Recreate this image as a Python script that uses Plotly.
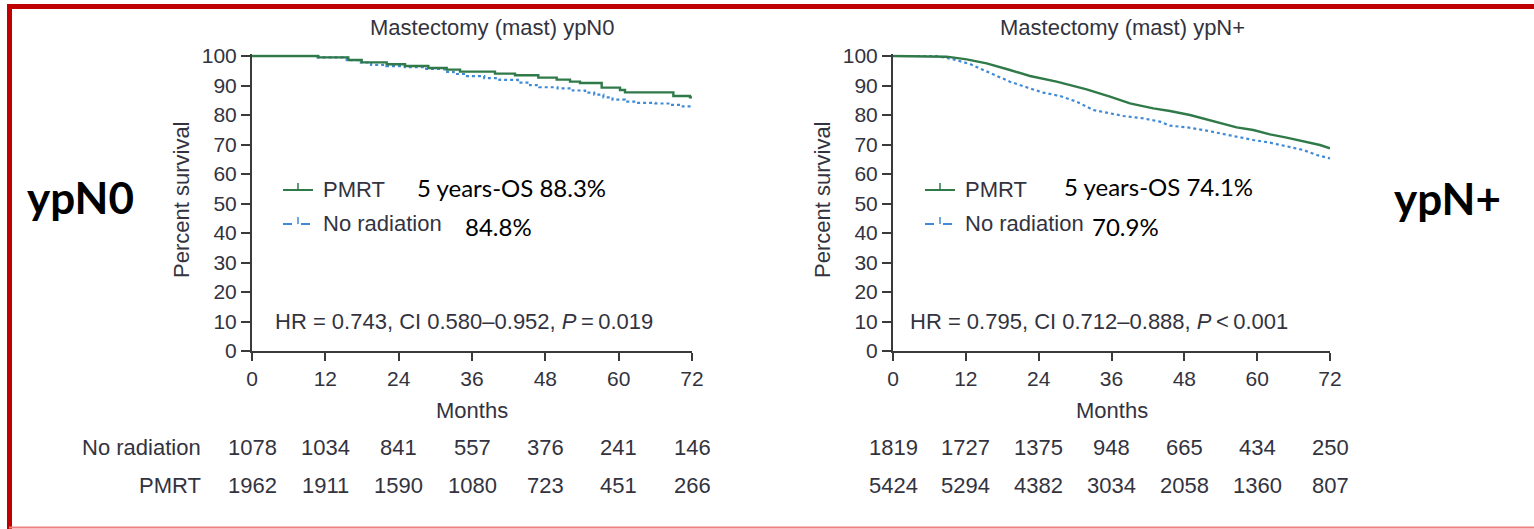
import plotly.graph_objects as go

W, H = 1534, 529

# ---------------- data ----------------
months_ticks = [0, 12, 24, 36, 48, 60, 72]
y_ticks = [0, 10, 20, 30, 40, 50, 60, 70, 80, 90, 100]

# ypN0 (left) Kaplan-Meier step curves
n0_pmrt_t = [0, 10.85, 15.76, 17.95, 22.04, 25.04, 28.85, 31.86, 34.04, 39.76, 43.04, 46.85,
             49.86, 52.04, 53.67, 57.22, 60.22, 61.04, 68.95, 71.67, 72]
n0_pmrt_s = [100, 99.55, 98.64, 97.85, 97.18, 96.61, 95.93, 95.37, 94.69, 94.01, 93.45, 92.66,
             91.98, 91.3, 90.85, 89.27, 88.47, 87.68, 86.44, 85.99, 85.99]
n0_norad_t = [0, 10.5, 15.5, 17.8, 19.5, 22.0, 25.0, 28.5, 31.5, 33.0, 35.0, 38.0, 40.5, 43.5,
              45.5, 47.0, 50.0, 52.5, 54.5, 56.0, 57.5, 59.0, 61.0, 63.0, 66.0, 68.5, 70.5, 72]
n0_norad_s = [100, 99.5, 98.6, 97.8, 97.0, 96.6, 96.2, 95.6, 94.6, 93.9, 93.2, 92.5, 91.9, 91.0,
              90.1, 89.4, 89.0, 88.3, 87.6, 86.9, 86.0, 85.2, 84.5, 84.1, 83.9, 83.4, 82.9, 82.5]

# ypN+ (right)
np_pmrt_t = [0, 6.64, 8.84, 12.14, 15.43, 19.27, 22.57, 26.96, 31.9, 35.75, 39.04, 42.89, 45.63,
             48.93, 51.13, 56.62, 59.36, 62.11, 64.85, 67.6, 70.35, 72]
np_pmrt_s = [100, 100, 99.77, 98.87, 97.51, 95.25, 93.22, 91.3, 88.7, 86.21, 83.95, 82.26, 81.36,
             80.0, 78.87, 75.82, 74.92, 73.45, 72.32, 70.96, 69.83, 68.7]
np_norad_t = [0, 7.19, 9.94, 12.69, 14.88, 17.08, 19.27, 22.02, 24.77, 27.51, 30.26, 33.0, 35.75,
              37.95, 41.24, 43.99, 45.63, 48.38, 51.13, 53.87, 56.62, 59.36, 62.11, 64.85, 67.6,
              69.8, 72]
np_norad_s = [100, 100, 98.87, 97.29, 95.25, 93.22, 91.3, 89.38, 87.57, 86.44, 84.52, 81.69, 80.56,
              79.66, 78.87, 77.74, 76.38, 75.82, 74.92, 73.79, 72.43, 71.53, 70.62, 69.49, 68.14,
              66.44, 65.31]

# numbers at risk
n0_risk_norad = [1078, 1034, 841, 557, 376, 241, 146]
n0_risk_pmrt = [1962, 1911, 1590, 1080, 723, 451, 266]
np_risk_norad = [1819, 1727, 1375, 948, 665, 434, 250]
np_risk_pmrt = [5424, 5294, 4382, 3034, 2058, 1360, 807]

titles = ["Mastectomy (mast) ypN0", "Mastectomy (mast) ypN+"]
hr_texts = ["HR = 0.743, CI 0.580\u20130.952, <i>P</i>\u2009=\u20090.019",
            "HR = 0.795, CI 0.712\u20130.888, <i>P</i>\u2009<\u20090.001"]
os_texts = [("5 years-OS 88.3%", "84.8%"), ("5 years-OS 74.1%", "70.9%")]
side_labels = ["ypN0", "ypN+"]

# ---------------- style ----------------
GREEN = "#2f7a48"
BLUE = "#3f8ad6"
AX = "#3a3a3a"
TXT = "#333340"
FONT = "Liberation Sans, Arial, sans-serif"
CAL = "Lato, Carlito, Calibri, sans-serif"


def px(x):
    return x / W


def py(y):
    return 1 - y / H


Y0, PPU = 351, 2.95  # pixel of y=0, pixels per unit
YTOP = 100.6
dom_y = [py(Y0), py(Y0 - YTOP * PPU)]
panels = [dict(x0=252, x1=692, tx=492), dict(x0=893, x1=1330, tx=1122)]

fig = go.Figure()

curves = [(n0_pmrt_t, n0_pmrt_s, n0_norad_t, n0_norad_s, "hv"),
          (np_pmrt_t, np_pmrt_s, np_norad_t, np_norad_s, "linear")]
for i, (pt, ps, nt, ns, shape) in enumerate(curves):
    xa = "x" if i == 0 else "x2"
    ya = "y" if i == 0 else "y2"
    fig.add_trace(go.Scatter(x=nt, y=ns, mode="lines", xaxis=xa, yaxis=ya, showlegend=False,
                             line=dict(color=BLUE, width=2.2, dash="dot", shape=shape)))
    fig.add_trace(go.Scatter(x=pt, y=ps, mode="lines", xaxis=xa, yaxis=ya, showlegend=False,
                             line=dict(color=GREEN, width=2.4, shape=shape)))

axis_common = dict(showline=True, linecolor=AX, linewidth=2, ticks="outside", tickcolor=AX,
                   tickwidth=2, showgrid=False, zeroline=False, automargin=False,
                   tickfont=dict(family=FONT, size=21, color=TXT))

for i, p in enumerate(panels):
    sx = "" if i == 0 else "2"
    fig.update_layout(**{
        f"xaxis{sx}": dict(axis_common, domain=[px(p["x0"]), px(p["x1"])], range=[0, 72],
                           tickvals=months_ticks, ticklen=8, anchor=f"y{sx}"),
        f"yaxis{sx}": dict(axis_common, domain=dom_y, range=[0, YTOP], tickvals=y_ticks,
                           ticklen=9, anchor=f"x{sx}"),
    })

ann = []
shapes = []


def text(x, y, s, size=22, family=FONT, color=TXT, xanchor="center", xref="paper", **kw):
    ann.append(dict(x=x, y=y, xref=xref, yref="paper", text=s, showarrow=False,
                    xanchor=xanchor, yanchor="middle",
                    font=dict(family=family, size=size, color=color), **kw))


for i, p in enumerate(panels):
    xr = "x" if i == 0 else "x2"
    cx = (p["x0"] + p["x1"]) / 2
    # title
    text(px(p["tx"]), py(27), titles[i])
    # axis titles
    text(px(cx), py(410), "Months")
    text(px(p["x0"] - 71), py(200), "Percent survival", textangle=-90)
    # HR text
    text(px(p["x0"] + (21 if i == 0 else 15)), py(321), hr_texts[i], xanchor="left")
    # legend samples
    lx0 = p["x0"] + (31 if i == 0 else 32)
    lx1 = lx0 + 30
    for yy, col, dash, lab in [(190, GREEN, "solid", "PMRT"), (224, BLUE, "dash", "No radiation")]:
        shapes.append(dict(type="line", xref="paper", yref="paper", x0=px(lx0), x1=px(lx1),
                           y0=py(yy), y1=py(yy), line=dict(color=col, width=2, dash=dash)))
        shapes.append(dict(type="line", xref="paper", yref="paper", x0=px((lx0 + lx1) / 2),
                           x1=px((lx0 + lx1) / 2), y0=py(yy), y1=py(yy - 7),
                           line=dict(color=col, width=1.5)))
        text(px(lx1 + 8), py(yy - 1), lab, xanchor="left")
    # OS annotations
    if i == 0:
        text(px(415), py(187), os_texts[i][0], size=24, family=CAL, color="#000000", xanchor="left")
        text(px(463), py(226), os_texts[i][1], size=24, family=CAL, color="#000000", xanchor="left")
    else:
        text(px(1062), py(186), os_texts[i][0], size=24, family=CAL, color="#000000", xanchor="left")
        text(px(1090), py(226), os_texts[i][1], size=24, family=CAL, color="#000000", xanchor="left")
    # numbers at risk
    rn = n0_risk_norad if i == 0 else np_risk_norad
    rp = n0_risk_pmrt if i == 0 else np_risk_pmrt
    for m, a, b in zip(months_ticks, rn, rp):
        ann.append(dict(x=m, y=py(447), xref=xr, yref="paper", text=str(a), showarrow=False,
                        xanchor="center", yanchor="middle", font=dict(family=FONT, size=22, color=TXT)))
        ann.append(dict(x=m, y=py(485), xref=xr, yref="paper", text=str(b), showarrow=False,
                        xanchor="center", yanchor="middle", font=dict(family=FONT, size=22, color=TXT)))

text(px(203), py(447), "No radiation", xanchor="right")
text(px(203), py(485), "PMRT", xanchor="right")

# side labels
text(px(80), py(197), "<b>" + side_labels[0] + "</b>", size=44, family="Lato, sans-serif", color="#000000")
text(px(1447), py(198), "<b>" + side_labels[1] + "</b>", size=44, family="Lato, sans-serif", color="#000000")

# red frame
shapes.append(dict(type="line", xref="paper", yref="paper", x0=px(9.5), x1=px(9.5), y0=py(4), y1=py(529),
                   line=dict(color="#c00000", width=5)))
shapes.append(dict(type="line", xref="paper", yref="paper", x0=px(7), x1=1, y0=py(6.5), y1=py(6.5),
                   line=dict(color="#c00000", width=5)))
shapes.append(dict(type="line", xref="paper", yref="paper", x0=px(9), x1=1, y0=py(527.5), y1=py(527.5),
                   line=dict(color="#f08080", width=2)))

fig.update_layout(width=W, height=H, margin=dict(l=0, r=0, t=0, b=0, pad=0, autoexpand=False),
                  paper_bgcolor="white", plot_bgcolor="white", annotations=ann, shapes=shapes,
                  showlegend=False)

fig.write_html("out.html",
               post_script="document.body.style.margin='0';document.body.style.overflow='hidden';")
